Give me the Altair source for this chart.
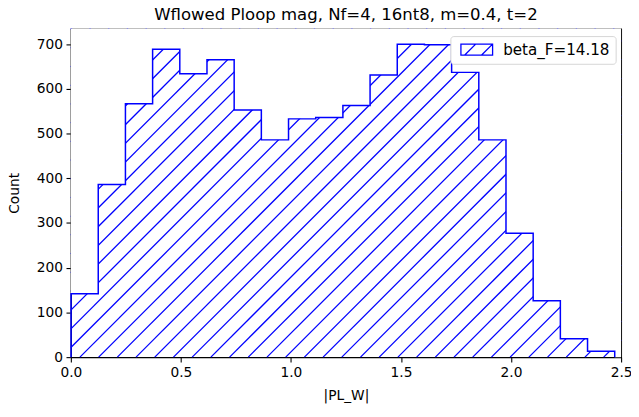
import altair as alt
import pandas as pd

# ---- data ----
bin_edges = [0.001, 0.1245, 0.248, 0.3715, 0.495, 0.6185, 0.742, 0.8655, 0.989,
             1.1125, 1.236, 1.3595, 1.483, 1.6065, 1.73, 1.8535, 1.977, 2.1005,
             2.224, 2.3475, 2.471]
counts = [142, 386, 567, 689, 634, 665, 553, 486, 533, 536, 563, 631, 700, 699,
          637, 486, 277, 126, 41, 13]
series_label = "beta_F=14.18"
x_ticks = [0.0, 0.5, 1.0, 1.5, 2.0, 2.5]
y_ticks = [0, 100, 200, 300, 400, 500, 600, 700]
title_text = "Wflowed Ploop mag, Nf=4, 16nt8, m=0.4, t=2"

X_MAX = 2.5
Y_MAX = 735
W, H = 556, 332
BLUE = "#0000ff"
FONT = "DejaVu Sans"

# step outline corner points (histtype='step')
xs = [bin_edges[0]]
ys = [0]
for i, c in enumerate(counts):
    xs += [bin_edges[i], bin_edges[i + 1]]
    ys += [c, c]
xs.append(bin_edges[-1])
ys.append(0)
outline = pd.DataFrame({"x": xs, "y": ys, "order": range(len(xs)), "series": series_label})

# mask (white area above the histogram), covering the whole width
mask = pd.DataFrame({"x": [0.0] + xs + [X_MAX], "y": [0] + ys + [0]})
mask["top"] = Y_MAX

xscale = alt.Scale(domain=[0, X_MAX], nice=False, zero=False)
yscale = alt.Scale(domain=[0, Y_MAX], nice=False)

xaxis = alt.Axis(values=x_ticks, format=".1f", title="|PL_W|", grid=False)
yaxis = alt.Axis(values=y_ticks, format="d", title="Count", grid=False)

# hatch texture: 45 degree lines in pixel space, clipped to the plot rectangle
px_per_x = W / X_MAX
px_per_y = H / Y_MAX
spacing_px = 18.9
phase_px = 9.2
hatch = (
    alt.Chart(alt.sequence(start=-25, stop=35, as_="k"))
    .transform_calculate(s=f"{phase_px} + datum.k * {spacing_px}")
    .transform_calculate(t0="max(0, -datum.s)", t1=f"min({H}, {W} - datum.s)")
    .transform_filter("datum.t1 > datum.t0")
    .transform_calculate(
        x0=f"(datum.s + datum.t0) / {px_per_x}",
        y0=f"datum.t0 / {px_per_y}",
        x1=f"(datum.s + datum.t1) / {px_per_x}",
        y1=f"datum.t1 / {px_per_y}",
    )
    .mark_rule(color=BLUE, strokeWidth=1.3)
    .encode(
        x=alt.X("x0:Q", scale=xscale, axis=xaxis),
        y=alt.Y("y0:Q", scale=yscale, axis=yaxis),
        x2="x1:Q",
        y2="y1:Q",
    )
)

mask_layer = (
    alt.Chart(mask)
    .mark_area(interpolate="linear", color="white", opacity=1)
    .encode(
        x=alt.X("x:Q", scale=xscale),
        y=alt.Y("top:Q", scale=yscale),
        y2="y:Q",
    )
)

legend_path = ("M-2.91,-1L2.91,-1L2.91,1L-2.91,1Z"
               "M-2.2,1L-0.2,-1M0.9,1L2.9,-1")

line_layer = (
    alt.Chart(outline)
    .mark_line(interpolate="linear", strokeWidth=1.5)
    .encode(
        x=alt.X("x:Q", scale=xscale),
        y=alt.Y("y:Q", scale=yscale),
        order="order:Q",
        color=alt.Color(
            "series:N",
            scale=alt.Scale(range=[BLUE]),
            legend=alt.Legend(
                title=None,
                orient="none",
                legendX=383.5,
                legendY=7.6,
                symbolType=legend_path,
                symbolSize=121,
                symbolOffset=13,
                symbolStrokeWidth=1.3,
                symbolFillColor="white",
                symbolStrokeColor=BLUE,
                labelOffset=19,
                labelFont=FONT,
                labelFontSize=15.3,
                labelColor="black",
                padding=6,
                strokeColor="#d6d6d6",
                fillColor="white",
                cornerRadius=3,
            ),
        ),
    )
)

chart = (
    alt.layer(hatch, mask_layer, line_layer)
    .properties(
        width=W,
        height=H,
        title=alt.TitleParams(
            text=title_text,
            font=FONT,
            fontSize=16.7,
            fontWeight="normal",
            color="black",
            anchor="middle",
            baseline="bottom",
            frame="group",
            offset=4,
            dy=17,
        ),
        autosize=alt.AutoSizeParams(type="none"),
        padding={"left": 63.5, "top": 18.7, "right": 10, "bottom": 50},
    )
    .configure_view(stroke="black", strokeWidth=1.1)
    .configure_axis(
        labelFont=FONT,
        labelFontSize=13.9,
        labelColor="black",
        titleFont=FONT,
        titleFontSize=13.9,
        titleFontWeight="normal",
        titleColor="black",
        tickColor="black",
        tickSize=4.9,
        tickWidth=1.1,
        domainColor="black",
        domainWidth=1.1,
        labelPadding=3.5,
        labelFlush=False,
        labelOverlap=False,
        zindex=1,
    )
    .configure_axisX(titlePadding=10)
    .configure_axisY(titlePadding=15)
)

chart.save("out.html", embed_options={"renderer": "svg", "actions": False})
